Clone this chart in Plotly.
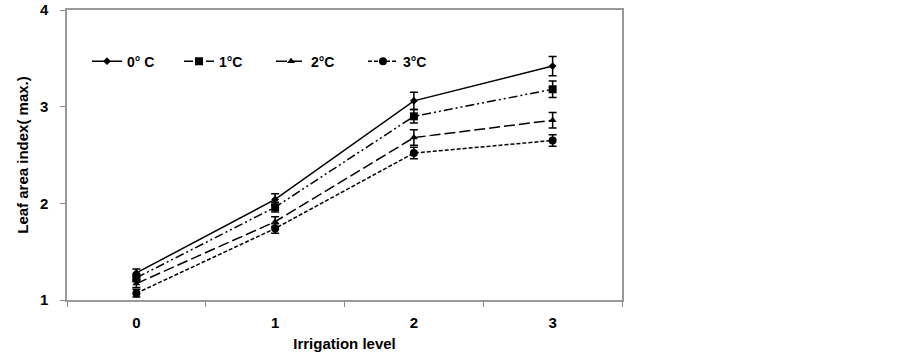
import plotly.graph_objects as go

levels = ["0", "1", "2", "3"]
t0 = [1.28, 2.04, 3.06, 3.42]
t1 = [1.23, 1.96, 2.90, 3.18]
t2 = [1.17, 1.81, 2.68, 2.86]
t3 = [1.07, 1.74, 2.52, 2.65]
e0 = [0.04, 0.06, 0.09, 0.10]
e1 = [0.04, 0.05, 0.07, 0.085]
e2 = [0.04, 0.05, 0.08, 0.08]
e3 = [0.04, 0.05, 0.06, 0.06]
names = ["0° C", "1°C", "2°C", "3°C"]
symbols = ["diamond", "square", "triangle-up", "circle"]
dashes = ["solid", "9px,3px,2px,3px,2px,3px", "11px,4px", "4px,2px"]
sizes = [6, 8, 7, 8]

fig = go.Figure()
for vals, errs, nm, sym, dsh, sz in zip([t0, t1, t2, t3], [e0, e1, e2, e3], names, symbols, dashes, sizes):
    fig.add_trace(go.Scatter(
        x=levels, y=vals, name=nm, mode="lines+markers",
        line=dict(color="black", width=1.5, dash=dsh),
        marker=dict(symbol=sym, size=sz, color="black"),
        error_y=dict(type="data", array=errs, visible=True, color="black", thickness=1.5, width=4),
    ))

fig.update_layout(
    width=903, height=357,
    margin=dict(l=67, r=281, t=10, b=57),
    paper_bgcolor="white", plot_bgcolor="white",
    font=dict(family="Liberation Sans, Arial, sans-serif", color="black", size=13),
    showlegend=True,
    legend=dict(orientation="h", x=0.036, y=0.822, xanchor="left", yanchor="middle",
                entrywidth=47, entrywidthmode="pixels",
                font=dict(size=14, family="Liberation Sans, Arial, sans-serif", weight="bold"),
                bgcolor="rgba(0,0,0,0)", tracegroupgap=0),
    xaxis=dict(
        type="category", range=[-0.5, 3.5], tickson="boundaries", automargin=False,
        ticks="outside", ticklen=5, tickcolor="#888888", ticklabelstandoff=8,
        showline=True, linecolor="#999999", linewidth=1.5, mirror=True,
        showgrid=False, zeroline=False,
        tickfont=dict(size=15, weight="bold"),
        title=dict(text="<b>Irrigation level</b>", font=dict(size=15), standoff=9),
    ),
    yaxis=dict(
        range=[1, 4], tickvals=[1, 2, 3, 4], automargin=False,
        ticks="outside", ticklen=5, tickcolor="#888888", ticklabelstandoff=9,
        showline=True, linecolor="#999999", linewidth=1.5, mirror=True,
        showgrid=False, zeroline=False,
        tickfont=dict(size=15, weight="bold"),
        title=dict(text="<b>Leaf area index( max.)</b>", font=dict(size=15), standoff=8),
    ),
)

fig.write_html("out.html", config={"displayModeBar": False},
               post_script="document.body.style.margin='0px';")
